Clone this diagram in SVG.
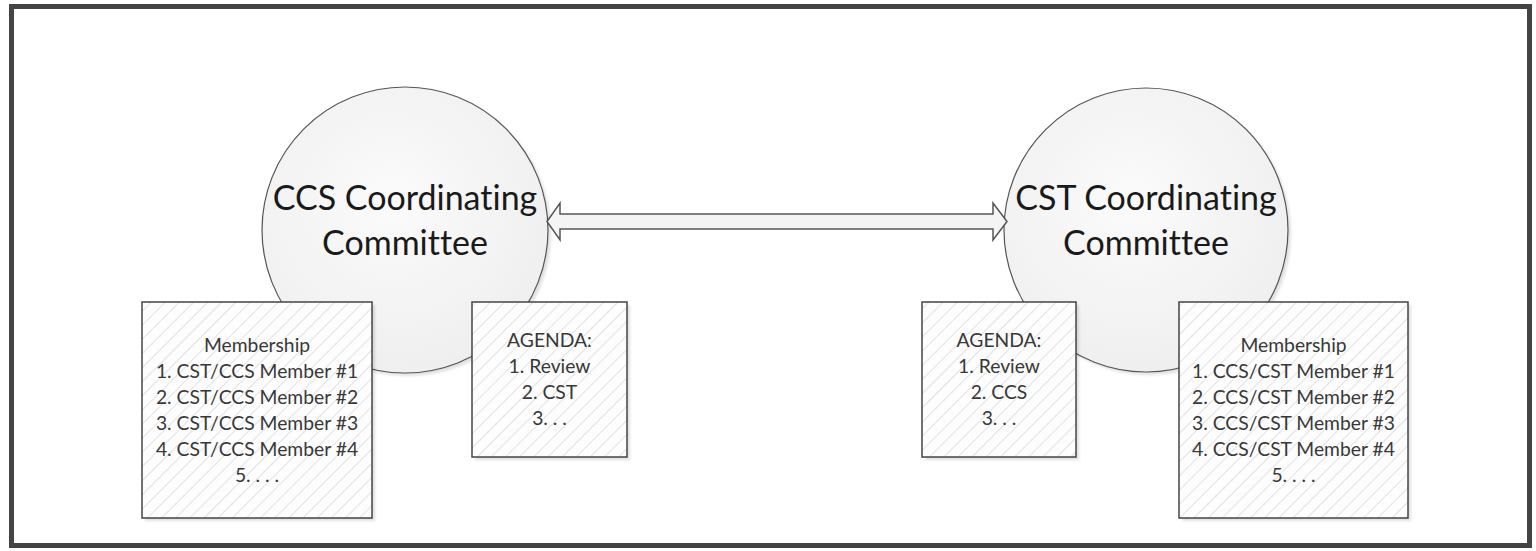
<svg xmlns="http://www.w3.org/2000/svg" width="1536" height="551" viewBox="0 0 1536 551">
<style>
.frame{fill:#fff;stroke:#444;stroke-width:5}
.circ{fill:url(#cg);stroke:#555;stroke-width:1.2}
.box{fill:url(#hatch);stroke:#444;stroke-width:1.5}
.shadow{fill:#000;opacity:0.12}
.big{font-family:Lato,"Open Sans",sans-serif;font-size:34px;fill:#1a1a1a;text-anchor:middle;font-variant-ligatures:none}
.small{font-family:Lato,"Open Sans",sans-serif;font-size:19.3px;fill:#383838;text-anchor:middle;font-variant-ligatures:none}
.arrow{fill:#f4f4f4;stroke:#555;stroke-width:1.5;stroke-linejoin:miter}
</style>
<defs>
<radialGradient id="cg" cx="0.45" cy="0.4" r="0.65">
<stop offset="0" stop-color="#fbfbfb"/>
<stop offset="1" stop-color="#eeeeee"/>
</radialGradient>
<pattern id="hatch" patternUnits="userSpaceOnUse" width="10" height="10" patternTransform="rotate(45)">
<rect width="10" height="10" fill="#fdfdfd"/>
<line x1="0" y1="0" x2="0" y2="10" stroke="#d0d0d0" stroke-width="1.2"/>
</pattern>
<filter id="blur" x="-10%" y="-10%" width="120%" height="120%"><feGaussianBlur stdDeviation="1.5"/></filter>
</defs>
<rect class="frame" x="11.5" y="6.5" width="1518" height="539"/>

<g id="ccs-committee">
<circle cx="408" cy="233" r="143" class="shadow" filter="url(#blur)"/>
<circle class="circ" cx="405" cy="230" r="143"/>
<text class="big" x="405" y="210">CCS Coordinating</text>
<text class="big" x="405" y="255">Committee</text>
</g>
<g id="cst-committee">
<circle cx="1149" cy="233" r="142" class="shadow" filter="url(#blur)"/>
<circle class="circ" cx="1146" cy="230" r="142"/>
<text class="big" x="1146" y="210">CST Coordinating</text>
<text class="big" x="1146" y="255">Committee</text>
</g>

<g id="ccs-membership">
<rect class="shadow" x="145" y="305" width="230" height="216" filter="url(#blur)"/>
<rect class="box" x="142" y="302" width="230" height="216"/>
<text class="small" x="257" y="352">Membership</text>
<text class="small" x="257" y="378">1. CST/CCS Member #1</text>
<text class="small" x="257" y="404">2. CST/CCS Member #2</text>
<text class="small" x="257" y="430">3. CST/CCS Member #3</text>
<text class="small" x="257" y="456">4. CST/CCS Member #4</text>
<text class="small" x="257" y="482">5. . . .</text>
</g>
<g id="ccs-agenda">
<rect class="shadow" x="475" y="305" width="155" height="155" filter="url(#blur)"/>
<rect class="box" x="472" y="302" width="155" height="155"/>
<text class="small" x="549.5" y="347">AGENDA:</text>
<text class="small" x="549.5" y="373">1. Review</text>
<text class="small" x="549.5" y="399">2. CST</text>
<text class="small" x="549.5" y="425">3. . .</text>
</g>
<g id="cst-agenda">
<rect class="shadow" x="925" y="305" width="154" height="155" filter="url(#blur)"/>
<rect class="box" x="922" y="302" width="154" height="155"/>
<text class="small" x="999" y="347">AGENDA:</text>
<text class="small" x="999" y="373">1. Review</text>
<text class="small" x="999" y="399">2. CCS</text>
<text class="small" x="999" y="425">3. . .</text>
</g>
<g id="cst-membership">
<rect class="shadow" x="1182" y="305" width="229" height="216" filter="url(#blur)"/>
<rect class="box" x="1179" y="302" width="229" height="216"/>
<text class="small" x="1293.5" y="352">Membership</text>
<text class="small" x="1293.5" y="378">1. CCS/CST Member #1</text>
<text class="small" x="1293.5" y="404">2. CCS/CST Member #2</text>
<text class="small" x="1293.5" y="430">3. CCS/CST Member #3</text>
<text class="small" x="1293.5" y="456">4. CCS/CST Member #4</text>
<text class="small" x="1293.5" y="482">5. . . .</text>
</g>

<g id="connectors">
<polygon class="arrow" points="547,221.5 560,203 560,214 993,214 993,203 1007,221.5 993,240 993,229 560,229 560,240"/>
</g>
</svg>
